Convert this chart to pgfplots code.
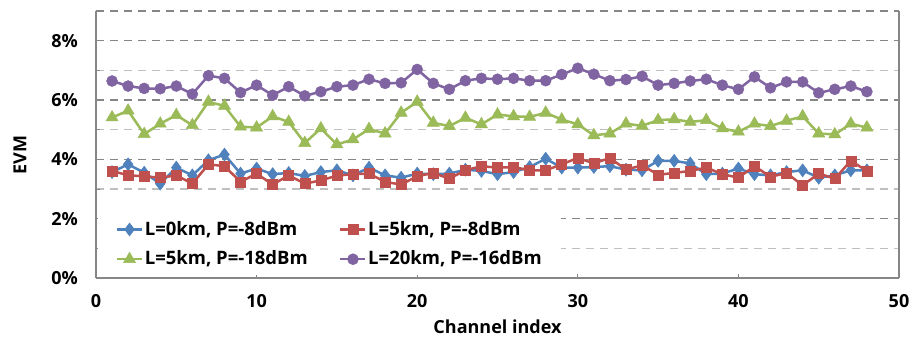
\documentclass[border=0pt]{standalone}
\usepackage{fontspec}
\setmainfont{Open Sans}
\usepackage{pgfplots}
\pgfplotsset{compat=1.18}
\definecolor{cblue}{HTML}{4F81BD}
\definecolor{cred}{HTML}{C0504D}
\definecolor{cgreen}{HTML}{9BBB59}
\definecolor{cpurple}{HTML}{8064A2}
\definecolor{gdark}{HTML}{868686}
\definecolor{glight}{HTML}{BFBFBF}
\pgfplotstableread{
x blue red green purple
1 3.57 3.61 5.41 6.64
2 3.83 3.46 5.64 6.47
3 3.55 3.43 4.85 6.39
4 3.18 3.38 5.20 6.38
5 3.72 3.46 5.49 6.47
6 3.46 3.18 5.15 6.20
7 3.97 3.83 5.94 6.82
8 4.16 3.77 5.80 6.73
9 3.52 3.24 5.10 6.25
10 3.69 3.52 5.07 6.50
11 3.50 3.15 5.45 6.16
12 3.54 3.46 5.26 6.45
13 3.44 3.18 4.55 6.14
14 3.57 3.29 5.04 6.28
15 3.63 3.45 4.50 6.45
16 3.46 3.50 4.67 6.50
17 3.72 3.52 5.02 6.70
18 3.46 3.24 4.87 6.56
19 3.38 3.15 5.57 6.58
20 3.52 3.43 5.94 7.03
21 3.50 3.54 5.23 6.56
22 3.52 3.35 5.12 6.36
23 3.65 3.63 5.40 6.65
24 3.61 3.77 5.18 6.73
25 3.50 3.72 5.51 6.70
26 3.57 3.74 5.45 6.73
27 3.74 3.63 5.43 6.65
28 4.02 3.63 5.57 6.65
29 3.72 3.83 5.34 6.86
30 3.72 4.05 5.18 7.07
31 3.74 3.86 4.81 6.87
32 3.77 4.05 4.87 6.65
33 3.65 3.65 5.20 6.69
34 3.63 3.80 5.13 6.80
35 3.95 3.48 5.32 6.50
36 3.95 3.54 5.35 6.56
37 3.86 3.61 5.26 6.64
38 3.50 3.72 5.32 6.70
39 3.52 3.50 5.04 6.50
40 3.69 3.38 4.93 6.36
41 3.50 3.77 5.20 6.78
42 3.46 3.41 5.12 6.41
43 3.57 3.54 5.30 6.61
44 3.63 3.12 5.45 6.61
45 3.38 3.52 4.87 6.24
46 3.46 3.35 4.84 6.36
47 3.63 3.95 5.20 6.47
48 3.63 3.61 5.07 6.28
}\datatable
\begin{document}
\fontsize{18}{21}\selectfont\bfseries
\begin{tikzpicture}
\begin{axis}[
  name=ax,
  scale only axis,
  width=803pt, height=267pt,
  xmin=0, xmax=50, ymin=0, ymax=9,
  separate axis lines,
  axis x line=bottom,
  axis y line=box,
  axis line style={draw=gdark, line width=1.2pt, -},
  xtick={0,10,20,30,40,50},
  xticklabels={0,10,20,30,40,50},
  ytick={0,2,4,6,8},
  yticklabels={0\%,2\%,4\%,6\%,8\%},
  minor ytick={1,3,5,7},
  extra y ticks={9},
  extra y tick labels={},
  extra y tick style={grid=major, major grid style={draw=gdark, line width=1.3pt, dash pattern=on 8pt off 6pt}},
  ymajorgrids, yminorgrids,
  major grid style={draw=gdark, line width=1.3pt, dash pattern=on 8pt off 6pt},
  minor grid style={draw=glight, line width=1.3pt, dash pattern=on 8pt off 6pt},
  tick align=inside,
  major tick length=4pt, minor tick length=4pt,
  tick style={draw=gdark, line width=0.8pt},
  xtick pos=bottom, ytick pos=left,
  xticklabel style={anchor=base, yshift=-30pt, font=\fontsize{18}{21}\selectfont\bfseries},
  yticklabel style={anchor=east, inner sep=0pt, xshift=-18pt, font=\fontsize{18}{21}\selectfont\bfseries},
  xlabel={Channel index},
  ylabel={EVM},
  xlabel style={at={(axis description cs:0.5,-0.208)}, anchor=base, font=\fontsize{18}{21}\selectfont\bfseries},
  ylabel style={at={(axis description cs:-0.0946,0.46)}, anchor=center, font=\fontsize{18}{21}\selectfont\bfseries},
  every axis plot/.append style={line width=2.5pt},
  legend image code/.code={\draw[mark repeat=2,mark phase=2] plot coordinates {(0pt,0pt) (12.5pt,0pt) (25pt,0pt)};},
  legend columns=2,
  legend style={at={(axis description cs:0.002,0.012)}, anchor=south west, draw=none, fill=white,
    inner xsep=18pt, inner ysep=3pt, row sep=5pt,
    font=\fontsize{18.5}{21}\selectfont\bfseries,
    nodes={inner xsep=1.5pt, inner ysep=4pt},
    /tikz/every even column/.append style={column sep=30pt}},
  legend cell align=left,
]
\addplot[color=cblue, mark=diamond*, mark size=6.5pt, mark options={solid, fill=cblue, line width=0.5pt}] table[x=x, y=blue] {\datatable};
\addlegendentry{L=0km, P=-8dBm}
\addplot[color=cred, mark=square*, mark size=5pt, mark options={solid, fill=cred, line width=0.5pt}] table[x=x, y=red] {\datatable};
\addlegendentry{L=5km, P=-8dBm}
\addplot[color=cgreen, mark=triangle*, mark size=7pt, mark options={solid, fill=cgreen, line width=0.5pt}] table[x=x, y=green] {\datatable};
\addlegendentry{L=5km, P=-18dBm}
\addplot[color=cpurple, mark=*, mark size=5.5pt, mark options={solid, fill=cpurple, line width=0.5pt}] table[x=x, y=purple] {\datatable};
\addlegendentry{L=20km, P=-16dBm}
\end{axis}
\pgfresetboundingbox
\path ([xshift=-96pt,yshift=-60pt]ax.south west) rectangle ([xshift=11pt,yshift=11pt]ax.north east);
\end{tikzpicture}
\end{document}
